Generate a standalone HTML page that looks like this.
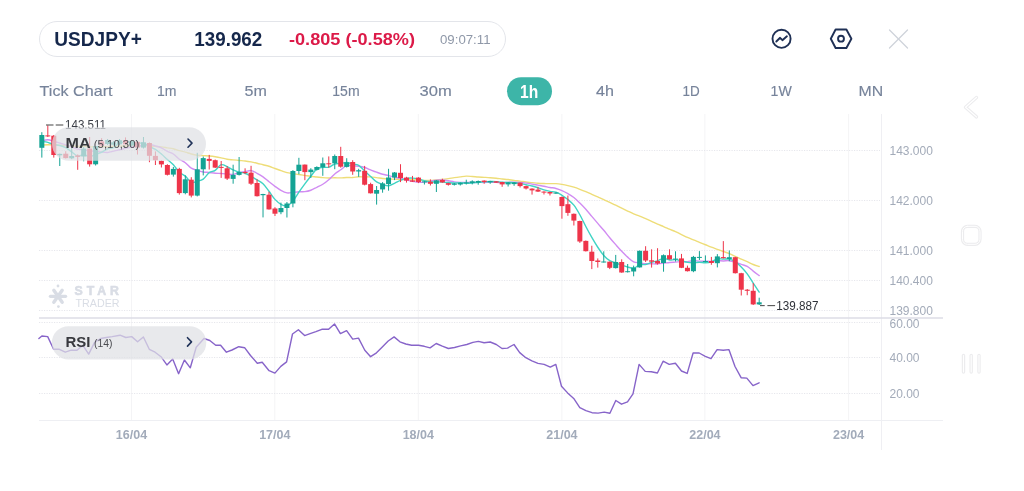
<!DOCTYPE html>
<html><head><meta charset="utf-8">
<style>
html,body{margin:0;padding:0;background:#fff;}
body{width:1024px;height:491px;overflow:hidden;position:relative;font-family:"Liberation Sans",sans-serif;}
svg{position:absolute;left:0;top:0;will-change:transform;}
text{font-family:"Liberation Sans",sans-serif;}
.ax{font-size:12px;fill:#a3abb9;}
.dt{font-size:12.5px;fill:#a2abba;font-weight:bold;}
.tab{font-size:15px;fill:#76839a;stroke:#76839a;stroke-width:0.15;}
</style></head>
<body>
<svg width="1024" height="491" viewBox="0 0 1024 491">
<!-- header pill -->
<rect x="39.5" y="21.5" width="466" height="35" rx="17.5" fill="#fff" stroke="#e3e5ea" stroke-width="1"/>
<text x="54.3" y="46" font-size="19.6" font-weight="bold" fill="#15274b" textLength="87.5" lengthAdjust="spacingAndGlyphs">USDJPY+</text>
<text x="194.3" y="46" font-size="19.6" font-weight="bold" fill="#15274b" textLength="68" lengthAdjust="spacingAndGlyphs">139.962</text>
<text x="289" y="45" font-size="17.4" font-weight="bold" fill="#dc1a48" textLength="126" lengthAdjust="spacingAndGlyphs">-0.805 (-0.58%)</text>
<text x="440" y="44" font-size="13" fill="#8f98a8" textLength="50.5" lengthAdjust="spacingAndGlyphs">09:07:11</text>
<!-- icons -->
<g fill="none" stroke="#1f3055" stroke-width="1.9" stroke-linecap="round" stroke-linejoin="round">
<circle cx="781.55" cy="38.8" r="9.05"/>
<polyline points="776.3,41.5 780.1,37.8 782.4,40.2 786.9,36.3"/>
<polygon points="830.8,38.75 835.6,29.5 846.4,29.5 851.4,38.75 846.4,48 835.6,48"/>
<circle cx="841" cy="38.7" r="2.95"/>
</g>
<g stroke="#cfd3da" stroke-width="1.3" stroke-linecap="round">
<line x1="889.5" y1="30" x2="907.5" y2="48"/><line x1="907.5" y1="30" x2="889.5" y2="48"/>
</g>
<!-- tabs -->
<text x="39.6" y="95.9" class="tab" textLength="72.9" lengthAdjust="spacingAndGlyphs">Tick Chart</text>
<text x="156.9" y="95.9" class="tab" textLength="19.5" lengthAdjust="spacingAndGlyphs">1m</text>
<text x="244.5" y="95.9" class="tab" textLength="22.3" lengthAdjust="spacingAndGlyphs">5m</text>
<text x="332.3" y="95.9" class="tab" textLength="27.3" lengthAdjust="spacingAndGlyphs">15m</text>
<text x="419.6" y="95.9" class="tab" textLength="32.2" lengthAdjust="spacingAndGlyphs">30m</text>
<rect x="507" y="77.2" width="45" height="28" rx="14" fill="#3db5a8"/>
<text x="520" y="97.9" font-size="17.5" font-weight="bold" fill="#fff" textLength="18.2" lengthAdjust="spacingAndGlyphs">1h</text>
<text x="596" y="95.9" class="tab" textLength="17.9" lengthAdjust="spacingAndGlyphs">4h</text>
<text x="682.6" y="95.9" class="tab" textLength="17.2" lengthAdjust="spacingAndGlyphs">1D</text>
<text x="770.6" y="95.9" class="tab" textLength="21.2" lengthAdjust="spacingAndGlyphs">1W</text>
<text x="858.5" y="95.9" class="tab" textLength="24.6" lengthAdjust="spacingAndGlyphs">MN</text>
<!-- right side faint icons -->
<g fill="none" stroke-linecap="round" stroke-linejoin="round">
<polyline points="976.5,97.5 965.5,107.2 976.5,116.9" stroke="#ececee" stroke-width="3.4"/>
<polyline points="976.5,97.5 965.5,107.2 976.5,116.9" stroke="#fff" stroke-width="1.2"/>
<rect x="962.5" y="226.3" width="17.5" height="18" rx="5" stroke="#ececee" stroke-width="3.2"/>
<rect x="962.5" y="226.3" width="17.5" height="18" rx="5" stroke="#fff" stroke-width="1"/>
<g stroke="#ececee" stroke-width="3.4"><line x1="963.5" y1="355.5" x2="963.5" y2="372"/><line x1="971.2" y1="355.5" x2="971.2" y2="372"/><line x1="979" y1="355.5" x2="979" y2="372"/></g>
<g stroke="#fff" stroke-width="1.1"><line x1="963.5" y1="355.5" x2="963.5" y2="372"/><line x1="971.2" y1="355.5" x2="971.2" y2="372"/><line x1="979" y1="355.5" x2="979" y2="372"/></g>
</g>
<!-- grid -->
<line x1="131.5" y1="114" x2="131.5" y2="420" stroke="#f4f4f6" stroke-width="1"/>
<line x1="274.8" y1="114" x2="274.8" y2="420" stroke="#f4f4f6" stroke-width="1"/>
<line x1="418.3" y1="114" x2="418.3" y2="420" stroke="#f4f4f6" stroke-width="1"/>
<line x1="561.9" y1="114" x2="561.9" y2="420" stroke="#f4f4f6" stroke-width="1"/>
<line x1="704.9" y1="114" x2="704.9" y2="420" stroke="#f4f4f6" stroke-width="1"/>
<line x1="848.6" y1="114" x2="848.6" y2="420" stroke="#f4f4f6" stroke-width="1"/>
<line x1="881.5" y1="114" x2="881.5" y2="450" stroke="#efeff3" stroke-width="1"/>
<line x1="39" y1="150.5" x2="880" y2="150.5" stroke="#e6e7ec" stroke-width="1" stroke-dasharray="1.2 1.3"/>
<line x1="39" y1="200.5" x2="880" y2="200.5" stroke="#e6e7ec" stroke-width="1" stroke-dasharray="1.2 1.3"/>
<line x1="39" y1="250.5" x2="880" y2="250.5" stroke="#e6e7ec" stroke-width="1" stroke-dasharray="1.2 1.3"/>
<line x1="39" y1="280.5" x2="880" y2="280.5" stroke="#e6e7ec" stroke-width="1" stroke-dasharray="1.2 1.3"/>
<line x1="39" y1="310.5" x2="880" y2="310.5" stroke="#e6e7ec" stroke-width="1" stroke-dasharray="1.2 1.3"/>
<line x1="39" y1="322.5" x2="880" y2="322.5" stroke="#e6e7ec" stroke-width="1" stroke-dasharray="1.2 1.3"/>
<line x1="39" y1="357.5" x2="880" y2="357.5" stroke="#e6e7ec" stroke-width="1" stroke-dasharray="1.2 1.3"/>
<line x1="39" y1="393.5" x2="880" y2="393.5" stroke="#e6e7ec" stroke-width="1" stroke-dasharray="1.2 1.3"/>
<line x1="39" y1="318" x2="943" y2="318" stroke="#dcdde6" stroke-width="1.6"/>
<line x1="39" y1="420.5" x2="943" y2="420.5" stroke="#eeeff3" stroke-width="1"/>
<!-- watermark -->
<g fill="#d9dde5">
<g transform="translate(58,296.3)">
<rect x="-9.2" y="-1.6" width="18.4" height="3.2" rx="1.6"/>
<rect x="-1.7" y="-9" width="3.4" height="18" rx="1.7" transform="rotate(35)"/>
<rect x="-1.7" y="-9" width="3.4" height="18" rx="1.7" transform="rotate(-35)"/>
<circle cx="0" cy="-10.3" r="1.4"/><circle cx="0.4" cy="10.3" r="1.4"/>
</g>
<text x="74.6" y="294.8" font-size="12.3" font-weight="bold" stroke="#d9dde5" stroke-width="0.6" textLength="44.3" lengthAdjust="spacing">STAR</text>
<text x="75.5" y="306.6" font-size="10.3" textLength="44" lengthAdjust="spacingAndGlyphs">TRADER</text>
</g>
<path d="M41.83,145.09 C42.83,145.03 45.82,144.75 47.81,144.73 C49.8,144.71 51.8,144.91 53.79,144.99 C55.78,145.07 57.77,145.12 59.76,145.22 C61.75,145.32 63.75,145.47 65.74,145.58 C67.73,145.69 69.73,145.77 71.72,145.87 C73.71,145.97 75.71,146.14 77.7,146.2 C79.69,146.26 81.69,146.14 83.68,146.24 C85.67,146.34 87.66,146.72 89.65,146.81 C91.64,146.9 93.64,146.79 95.63,146.77 C97.62,146.75 99.62,146.77 101.61,146.72 C103.6,146.67 105.6,146.55 107.59,146.48 C109.58,146.41 111.58,146.38 113.57,146.31 C115.56,146.24 117.55,146.14 119.54,146.08 C121.53,146.03 123.53,146.03 125.52,145.98 C127.51,145.93 129.51,145.82 131.5,145.79 C133.49,145.76 135.49,145.83 137.48,145.8 C139.47,145.78 141.47,145.62 143.46,145.64 C145.45,145.66 147.44,145.81 149.43,145.93 C151.42,146.05 153.42,146.19 155.41,146.36 C157.4,146.53 159.4,146.68 161.39,146.93 C163.38,147.18 165.38,147.54 167.37,147.85 C169.36,148.16 171.36,148.31 173.35,148.78 C175.34,149.25 177.33,150.14 179.32,150.69 C181.31,151.24 183.31,151.52 185.3,152.06 C187.29,152.6 189.29,153.43 191.28,153.95 C193.27,154.47 195.27,154.91 197.26,155.19 C199.25,155.47 201.25,155.52 203.24,155.66 C205.23,155.8 207.22,155.86 209.21,156.04 C211.2,156.22 213.2,156.43 215.19,156.72 C217.18,157.01 219.18,157.39 221.17,157.81 C223.16,158.23 225.16,158.88 227.15,159.22 C229.14,159.56 231.14,159.67 233.13,159.88 C235.12,160.09 237.11,160.3 239.1,160.48 C241.09,160.66 243.09,160.74 245.08,160.98 C247.07,161.22 249.07,161.53 251.06,161.9 C253.05,162.27 255.05,162.74 257.04,163.21 C259.03,163.68 261.03,164.23 263.02,164.73 C265.01,165.23 267,165.6 268.99,166.23 C270.98,166.86 272.98,167.77 274.97,168.49 C276.96,169.21 278.96,169.87 280.95,170.57 C282.94,171.27 284.94,172.18 286.93,172.69 C288.92,173.2 290.92,173.34 292.91,173.64 C294.9,173.94 296.89,174.17 298.88,174.46 C300.87,174.75 302.87,175.08 304.86,175.39 C306.85,175.7 308.85,176.07 310.84,176.33 C312.83,176.59 314.83,176.75 316.82,176.97 C318.81,177.19 320.81,177.51 322.8,177.67 C324.79,177.83 326.78,177.93 328.77,177.95 C330.76,177.97 332.76,177.82 334.75,177.81 C336.74,177.8 338.74,177.95 340.73,177.89 C342.72,177.83 344.72,177.53 346.71,177.47 C348.7,177.41 350.7,177.67 352.69,177.56 C354.68,177.45 356.67,176.89 358.66,176.79 C360.65,176.69 362.65,176.95 364.64,176.97 C366.63,176.99 368.63,176.8 370.62,176.9 C372.61,177 374.61,177.34 376.6,177.59 C378.59,177.84 380.59,178.2 382.58,178.43 C384.57,178.66 386.56,178.86 388.55,178.98 C390.54,179.1 392.54,179.06 394.53,179.15 C396.52,179.24 398.52,179.43 400.51,179.5 C402.5,179.57 404.5,179.51 406.49,179.56 C408.48,179.61 410.48,179.69 412.47,179.79 C414.46,179.88 416.45,180.03 418.44,180.13 C420.43,180.23 422.43,180.36 424.42,180.41 C426.41,180.46 428.41,180.5 430.4,180.41 C432.39,180.32 434.39,180.03 436.38,179.88 C438.37,179.73 440.37,179.7 442.36,179.5 C444.35,179.3 446.34,178.99 448.33,178.68 C450.32,178.38 452.32,177.98 454.31,177.67 C456.3,177.36 458.3,177.09 460.29,176.83 C462.28,176.57 464.28,176.19 466.27,176.13 C468.26,176.07 470.26,176.32 472.25,176.47 C474.24,176.62 476.23,176.86 478.22,177.01 C480.21,177.16 482.21,177.22 484.2,177.34 C486.19,177.46 488.19,177.57 490.18,177.72 C492.17,177.87 494.17,178.05 496.16,178.25 C498.15,178.45 500.15,178.73 502.14,178.95 C504.13,179.17 506.12,179.31 508.11,179.56 C510.1,179.81 512.1,180.19 514.09,180.44 C516.08,180.69 518.08,180.84 520.07,181.09 C522.06,181.34 524.06,181.71 526.05,181.96 C528.04,182.21 530.04,182.37 532.03,182.59 C534.02,182.81 536.01,183.15 538,183.31 C539.99,183.47 541.99,183.52 543.98,183.57 C545.97,183.62 547.97,183.56 549.96,183.58 C551.95,183.6 553.95,183.52 555.94,183.66 C557.93,183.8 559.93,184.1 561.92,184.42 C563.91,184.74 565.9,185.14 567.89,185.6 C569.88,186.06 571.88,186.58 573.87,187.2 C575.86,187.82 577.86,188.57 579.85,189.32 C581.84,190.06 583.84,190.84 585.83,191.67 C587.82,192.5 589.82,193.43 591.81,194.31 C593.8,195.19 595.79,196.09 597.78,196.98 C599.77,197.87 601.77,198.74 603.76,199.65 C605.75,200.56 607.75,201.53 609.74,202.45 C611.73,203.37 613.73,204.22 615.72,205.17 C617.71,206.12 619.71,207.19 621.7,208.17 C623.69,209.15 625.68,210.1 627.67,211.05 C629.66,212 631.66,213 633.65,213.85 C635.64,214.69 637.64,215.31 639.63,216.12 C641.62,216.93 643.62,217.84 645.61,218.72 C647.6,219.6 649.6,220.5 651.59,221.4 C653.58,222.31 655.57,223.28 657.56,224.15 C659.55,225.02 661.55,225.75 663.54,226.59 C665.53,227.43 667.53,228.34 669.52,229.2 C671.51,230.06 673.51,230.84 675.5,231.73 C677.49,232.61 679.49,233.55 681.48,234.51 C683.47,235.47 685.46,236.56 687.45,237.47 C689.44,238.38 691.44,239.15 693.43,239.96 C695.42,240.77 697.42,241.53 699.41,242.32 C701.4,243.11 703.4,243.92 705.39,244.73 C707.38,245.53 709.38,246.39 711.37,247.15 C713.36,247.91 715.35,248.59 717.34,249.31 C719.33,250.03 721.33,250.78 723.32,251.5 C725.31,252.22 727.31,252.82 729.3,253.62 C731.29,254.42 733.29,255.4 735.28,256.31 C737.27,257.22 739.27,258.2 741.26,259.1 C743.25,260 745.24,260.79 747.23,261.69 C749.22,262.59 751.22,263.69 753.21,264.49 C755.2,265.29 758.19,266.17 759.19,266.51" fill="none" stroke="#eedd78" stroke-width="1.4" stroke-linecap="round"/>
<path d="M41.83,140.88 C42.83,140.7 45.82,139.75 47.81,139.8 C49.8,139.85 51.8,140.67 53.79,141.2 C55.78,141.73 57.77,142.37 59.76,143 C61.75,143.63 63.75,144.38 65.74,145 C67.73,145.62 69.73,146 71.72,146.7 C73.71,147.4 75.71,148.7 77.7,149.19 C79.69,149.68 81.69,149.33 83.68,149.65 C85.67,149.97 87.66,150.91 89.65,151.14 C91.64,151.37 93.64,150.87 95.63,151.02 C97.62,151.18 99.62,151.83 101.61,152.07 C103.6,152.31 105.6,152.58 107.59,152.43 C109.58,152.28 111.58,151.6 113.57,151.16 C115.56,150.72 117.55,150.25 119.54,149.79 C121.53,149.33 123.53,148.88 125.52,148.41 C127.51,147.94 129.51,147.35 131.5,146.95 C133.49,146.55 135.49,146.28 137.48,146.02 C139.47,145.76 141.47,145.64 143.46,145.39 C145.45,145.14 147.44,144.45 149.43,144.54 C151.42,144.63 153.42,145.4 155.41,145.95 C157.4,146.5 159.4,146.94 161.39,147.84 C163.38,148.74 165.38,150.3 167.37,151.32 C169.36,152.34 171.36,152.65 173.35,153.98 C175.34,155.31 177.33,157.81 179.32,159.27 C181.31,160.74 183.31,161.28 185.3,162.77 C187.29,164.26 189.29,166.93 191.28,168.19 C193.27,169.45 195.27,169.74 197.26,170.36 C199.25,170.99 201.25,171.59 203.24,171.94 C205.23,172.29 207.22,172.24 209.21,172.45 C211.2,172.66 213.2,173.02 215.19,173.2 C217.18,173.38 219.18,173.4 221.17,173.52 C223.16,173.64 225.16,173.74 227.15,173.9 C229.14,174.06 231.14,174.75 233.13,174.5 C235.12,174.25 237.11,172.85 239.1,172.39 C241.09,171.93 243.09,172.06 245.08,171.76 C247.07,171.46 249.07,170.32 251.06,170.57 C253.05,170.82 255.05,172.21 257.04,173.26 C259.03,174.31 261.03,175.44 263.02,176.85 C265.01,178.26 267,180.12 268.99,181.7 C270.98,183.28 272.98,184.87 274.97,186.31 C276.96,187.75 278.96,189.26 280.95,190.35 C282.94,191.44 284.94,192.49 286.93,192.84 C288.92,193.19 290.92,192.64 292.91,192.45 C294.9,192.26 296.89,191.86 298.88,191.72 C300.87,191.58 302.87,191.88 304.86,191.63 C306.85,191.38 308.85,190.94 310.84,190.22 C312.83,189.5 314.83,188.3 316.82,187.3 C318.81,186.3 320.81,185.5 322.8,184.23 C324.79,182.96 326.78,181.41 328.77,179.69 C330.76,177.97 332.76,175.57 334.75,173.92 C336.74,172.27 338.74,171.16 340.73,169.79 C342.72,168.41 344.72,166.35 346.71,165.67 C348.7,164.99 350.7,165.62 352.69,165.72 C354.68,165.82 356.67,165.97 358.66,166.27 C360.65,166.57 362.65,166.93 364.64,167.53 C366.63,168.13 368.63,169.12 370.62,169.9 C372.61,170.68 374.61,171.48 376.6,172.2 C378.59,172.92 380.59,173.65 382.58,174.21 C384.57,174.77 386.56,175.06 388.55,175.56 C390.54,176.06 392.54,176.75 394.53,177.21 C396.52,177.68 398.52,177.85 400.51,178.35 C402.5,178.84 404.5,179.71 406.49,180.18 C408.48,180.66 410.48,180.83 412.47,181.2 C414.46,181.57 416.45,182.25 418.44,182.39 C420.43,182.53 422.43,182.27 424.42,182.06 C426.41,181.85 428.41,181.43 430.4,181.11 C432.39,180.79 434.39,180.33 436.38,180.15 C438.37,179.97 440.37,179.95 442.36,180.05 C444.35,180.16 446.34,180.47 448.33,180.78 C450.32,181.09 452.32,181.62 454.31,181.88 C456.3,182.14 458.3,182.24 460.29,182.35 C462.28,182.46 464.28,182.51 466.27,182.53 C468.26,182.55 470.26,182.52 472.25,182.49 C474.24,182.47 476.23,182.39 478.22,182.38 C480.21,182.37 482.21,182.48 484.2,182.44 C486.19,182.4 488.19,182.17 490.18,182.16 C492.17,182.15 494.17,182.32 496.16,182.39 C498.15,182.46 500.15,182.6 502.14,182.59 C504.13,182.58 506.12,182.41 508.11,182.35 C510.1,182.29 512.1,182.2 514.09,182.24 C516.08,182.28 518.08,182.41 520.07,182.57 C522.06,182.73 524.06,182.93 526.05,183.18 C528.04,183.43 530.04,183.76 532.03,184.09 C534.02,184.42 536.01,184.8 538,185.15 C539.99,185.5 541.99,185.83 543.98,186.21 C545.97,186.59 547.97,187.09 549.96,187.46 C551.95,187.83 553.95,187.92 555.94,188.45 C557.93,188.98 559.93,189.75 561.92,190.62 C563.91,191.49 565.9,192.52 567.89,193.67 C569.88,194.81 571.88,195.93 573.87,197.49 C575.86,199.05 577.86,201.06 579.85,203.03 C581.84,205 583.84,207.08 585.83,209.3 C587.82,211.52 589.82,214.01 591.81,216.36 C593.8,218.71 595.79,221.08 597.78,223.4 C599.77,225.72 601.77,227.9 603.76,230.29 C605.75,232.68 607.75,235.32 609.74,237.72 C611.73,240.12 613.73,242.4 615.72,244.66 C617.71,246.92 619.71,249.22 621.7,251.3 C623.69,253.38 625.68,255.38 627.67,257.13 C629.66,258.88 631.66,260.89 633.65,261.83 C635.64,262.77 637.64,262.45 639.63,262.76 C641.62,263.07 643.62,263.52 645.61,263.69 C647.6,263.86 649.6,263.72 651.59,263.76 C653.58,263.8 655.57,263.99 657.56,263.91 C659.55,263.83 661.55,263.53 663.54,263.28 C665.53,263.03 667.53,262.63 669.52,262.43 C671.51,262.23 673.51,262.22 675.5,262.09 C677.49,261.95 679.49,261.7 681.48,261.62 C683.47,261.54 685.46,261.8 687.45,261.62 C689.44,261.44 691.44,260.63 693.43,260.55 C695.42,260.47 697.42,261.05 699.41,261.16 C701.4,261.27 703.4,261.18 705.39,261.21 C707.38,261.24 709.38,261.44 711.37,261.34 C713.36,261.24 715.35,260.7 717.34,260.63 C719.33,260.56 721.33,260.92 723.32,260.93 C725.31,260.94 727.31,260.51 729.3,260.72 C731.29,260.93 733.29,261.57 735.28,262.18 C737.27,262.79 739.27,263.68 741.26,264.37 C743.25,265.06 745.24,265.21 747.23,266.33 C749.22,267.45 751.22,269.53 753.21,271.08 C755.2,272.63 758.19,274.86 759.19,275.62" fill="none" stroke="#d18cf2" stroke-width="1.4" stroke-linecap="round"/>
<path d="M41.83,141.52 C42.83,141.67 45.82,141.89 47.81,142.4 C49.8,142.91 51.8,144.08 53.79,144.6 C55.78,145.12 57.77,144.99 59.76,145.5 C61.75,146.01 63.75,146.62 65.74,147.68 C67.73,148.74 69.73,150.5 71.72,151.88 C73.71,153.26 75.71,155.51 77.7,155.98 C79.69,156.45 81.69,154.57 83.68,154.7 C85.67,154.83 87.66,156.84 89.65,156.78 C91.64,156.72 93.64,155.11 95.63,154.36 C97.62,153.61 99.62,153.17 101.61,152.26 C103.6,151.35 105.6,149.65 107.59,148.88 C109.58,148.11 111.58,148.63 113.57,147.62 C115.56,146.61 117.55,143.66 119.54,142.8 C121.53,141.94 123.53,142.65 125.52,142.46 C127.51,142.27 129.51,141.52 131.5,141.64 C133.49,141.76 135.49,142.91 137.48,143.16 C139.47,143.41 141.47,142.64 143.46,143.16 C145.45,143.68 147.44,145.23 149.43,146.28 C151.42,147.33 153.42,148.15 155.41,149.44 C157.4,150.73 159.4,152.37 161.39,154.04 C163.38,155.71 165.38,157.69 167.37,159.48 C169.36,161.27 171.36,162.67 173.35,164.8 C175.34,166.93 177.33,170.38 179.32,172.26 C181.31,174.14 183.31,174.42 185.3,176.1 C187.29,177.78 189.29,181.48 191.28,182.34 C193.27,183.2 195.27,181.78 197.26,181.24 C199.25,180.7 201.25,180.51 203.24,179.08 C205.23,177.65 207.22,174.1 209.21,172.64 C211.2,171.18 213.2,171.62 215.19,170.3 C217.18,168.98 219.18,165.32 221.17,164.7 C223.16,164.08 225.16,165.69 227.15,166.56 C229.14,167.43 231.14,168.99 233.13,169.92 C235.12,170.85 237.11,171.59 239.1,172.14 C241.09,172.69 243.09,172.5 245.08,173.22 C247.07,173.94 249.07,175.32 251.06,176.44 C253.05,177.56 255.05,178.74 257.04,179.96 C259.03,181.18 261.03,181.9 263.02,183.78 C265.01,185.66 267,188.66 268.99,191.26 C270.98,193.86 272.98,197.23 274.97,199.4 C276.96,201.57 278.96,203.21 280.95,204.26 C282.94,205.31 284.94,206.24 286.93,205.72 C288.92,205.2 290.92,203.38 292.91,201.12 C294.9,198.86 296.89,195.06 298.88,192.18 C300.87,189.3 302.87,186.53 304.86,183.86 C306.85,181.19 308.85,178.68 310.84,176.18 C312.83,173.68 314.83,170.35 316.82,168.88 C318.81,167.41 320.81,167.62 322.8,167.34 C324.79,167.06 326.78,167.76 328.77,167.2 C330.76,166.64 332.76,164.61 334.75,163.98 C336.74,163.35 338.74,163.65 340.73,163.4 C342.72,163.15 344.72,162.34 346.71,162.46 C348.7,162.58 350.7,163.62 352.69,164.1 C354.68,164.58 356.67,164.18 358.66,165.34 C360.65,166.5 362.65,169.24 364.64,171.08 C366.63,172.92 368.63,174.59 370.62,176.4 C372.61,178.21 374.61,180.62 376.6,181.94 C378.59,183.26 380.59,183.68 382.58,184.32 C384.57,184.96 386.56,185.94 388.55,185.78 C390.54,185.62 392.54,184.25 394.53,183.34 C396.52,182.43 398.52,181.12 400.51,180.3 C402.5,179.48 404.5,178.79 406.49,178.42 C408.48,178.05 410.48,177.98 412.47,178.08 C414.46,178.18 416.45,178.55 418.44,179 C420.43,179.45 422.43,180.29 424.42,180.78 C426.41,181.27 428.41,181.74 430.4,181.92 C432.39,182.1 434.39,181.86 436.38,181.88 C438.37,181.9 440.37,181.91 442.36,182.02 C444.35,182.13 446.34,182.4 448.33,182.56 C450.32,182.72 452.32,182.94 454.31,182.98 C456.3,183.02 458.3,182.75 460.29,182.78 C462.28,182.81 464.28,183.15 466.27,183.18 C468.26,183.21 470.26,183.12 472.25,182.96 C474.24,182.8 476.23,182.38 478.22,182.2 C480.21,182.02 482.21,182.01 484.2,181.9 C486.19,181.79 488.19,181.59 490.18,181.54 C492.17,181.49 494.17,181.49 496.16,181.6 C498.15,181.71 500.15,182.07 502.14,182.22 C504.13,182.37 506.12,182.44 508.11,182.5 C510.1,182.56 512.1,182.4 514.09,182.58 C516.08,182.76 518.08,183.24 520.07,183.6 C522.06,183.96 524.06,184.37 526.05,184.76 C528.04,185.15 530.04,185.45 532.03,185.96 C534.02,186.47 536.01,187.15 538,187.8 C539.99,188.45 541.99,189.25 543.98,189.84 C545.97,190.43 547.97,190.94 549.96,191.32 C551.95,191.7 553.95,191.48 555.94,192.14 C557.93,192.8 559.93,194.05 561.92,195.28 C563.91,196.51 565.9,197.9 567.89,199.54 C569.88,201.18 571.88,202.61 573.87,205.14 C575.86,207.67 577.86,211.19 579.85,214.74 C581.84,218.29 583.84,222.68 585.83,226.46 C587.82,230.24 589.82,233.97 591.81,237.44 C593.8,240.91 595.79,244.26 597.78,247.26 C599.77,250.26 601.77,253.2 603.76,255.44 C605.75,257.68 607.75,259.46 609.74,260.7 C611.73,261.94 613.73,262.12 615.72,262.86 C617.71,263.6 619.71,264.47 621.7,265.16 C623.69,265.85 625.68,266.49 627.67,267 C629.66,267.51 631.66,268.58 633.65,268.22 C635.64,267.86 637.64,265.44 639.63,264.82 C641.62,264.2 643.62,264.93 645.61,264.52 C647.6,264.11 649.6,262.98 651.59,262.36 C653.58,261.74 655.57,261.49 657.56,260.82 C659.55,260.15 661.55,258.47 663.54,258.34 C665.53,258.21 667.53,259.82 669.52,260.04 C671.51,260.26 673.51,259.52 675.5,259.66 C677.49,259.8 679.49,260.42 681.48,260.88 C683.47,261.34 685.46,262.11 687.45,262.42 C689.44,262.73 691.44,262.78 693.43,262.76 C695.42,262.74 697.42,262.28 699.41,262.28 C701.4,262.28 703.4,262.84 705.39,262.76 C707.38,262.68 709.38,262.45 711.37,261.8 C713.36,261.15 715.35,259.29 717.34,258.84 C719.33,258.39 721.33,259.05 723.32,259.1 C725.31,259.15 727.31,258.74 729.3,259.16 C731.29,259.58 733.29,260.3 735.28,261.6 C737.27,262.9 739.27,264.9 741.26,266.94 C743.25,268.98 745.24,271.13 747.23,273.82 C749.22,276.51 751.22,280.02 753.21,283.06 C755.2,286.1 758.19,290.58 759.19,292.08" fill="none" stroke="#40d4c4" stroke-width="1.4" stroke-linecap="round"/>
<rect x="41.33" y="132.2" width="1" height="25.4" fill="#14a394"/>
<rect x="39.33" y="135" width="5" height="12.8" fill="#14a394"/>
<rect x="47.31" y="125.3" width="1" height="11.7" fill="#ee354a"/>
<rect x="45.31" y="135.4" width="5" height="1" fill="#ee354a"/>
<rect x="53.29" y="135" width="1" height="22.6" fill="#ee354a"/>
<rect x="51.29" y="135.7" width="5" height="19.3" fill="#ee354a"/>
<rect x="59.26" y="153.5" width="1" height="12.5" fill="#14a394"/>
<rect x="57.26" y="153.9" width="5" height="1.4" fill="#14a394"/>
<rect x="65.24" y="151.2" width="1" height="7.3" fill="#ee354a"/>
<rect x="63.24" y="153.7" width="5" height="4.4" fill="#ee354a"/>
<rect x="71.22" y="148" width="1" height="11.2" fill="#14a394"/>
<rect x="69.22" y="156" width="5" height="2.3" fill="#14a394"/>
<rect x="77.2" y="154.4" width="1" height="15.4" fill="#ee354a"/>
<rect x="75.2" y="155.5" width="5" height="1.4" fill="#ee354a"/>
<rect x="83.18" y="147" width="1" height="14.3" fill="#14a394"/>
<rect x="81.18" y="148.6" width="5" height="7.9" fill="#14a394"/>
<rect x="89.15" y="137" width="1" height="29.6" fill="#ee354a"/>
<rect x="87.15" y="148.6" width="5" height="15.7" fill="#ee354a"/>
<rect x="95.13" y="146" width="1" height="19.5" fill="#14a394"/>
<rect x="93.13" y="146" width="5" height="18.3" fill="#14a394"/>
<rect x="101.11" y="138.2" width="1" height="8.3" fill="#ee354a"/>
<rect x="99.11" y="141.4" width="5" height="4.1" fill="#ee354a"/>
<rect x="107.09" y="139" width="1" height="6" fill="#14a394"/>
<rect x="105.09" y="140" width="5" height="4" fill="#14a394"/>
<rect x="113.07" y="141" width="1" height="4.5" fill="#14a394"/>
<rect x="111.07" y="142.3" width="5" height="2.4" fill="#14a394"/>
<rect x="119.04" y="139" width="1" height="6" fill="#14a394"/>
<rect x="117.04" y="140.2" width="5" height="4.1" fill="#14a394"/>
<rect x="125.02" y="137.4" width="1" height="7.6" fill="#ee354a"/>
<rect x="123.02" y="140.2" width="5" height="4.1" fill="#ee354a"/>
<rect x="131" y="140" width="1" height="6.5" fill="#14a394"/>
<rect x="129" y="141.4" width="5" height="4.1" fill="#14a394"/>
<rect x="136.98" y="141" width="1" height="13.5" fill="#ee354a"/>
<rect x="134.98" y="141.9" width="5" height="5.7" fill="#ee354a"/>
<rect x="142.96" y="137" width="1" height="11.5" fill="#14a394"/>
<rect x="140.96" y="142.3" width="5" height="5.3" fill="#14a394"/>
<rect x="148.93" y="142.5" width="1" height="19.7" fill="#ee354a"/>
<rect x="146.93" y="143" width="5" height="12.8" fill="#ee354a"/>
<rect x="154.91" y="151.4" width="1" height="13.6" fill="#ee354a"/>
<rect x="152.91" y="155.9" width="5" height="4.2" fill="#ee354a"/>
<rect x="160.89" y="160.5" width="1" height="7" fill="#ee354a"/>
<rect x="158.89" y="160.8" width="5" height="3.6" fill="#ee354a"/>
<rect x="166.87" y="164.2" width="1" height="11.3" fill="#ee354a"/>
<rect x="164.87" y="165" width="5" height="9.8" fill="#ee354a"/>
<rect x="172.85" y="166.9" width="1" height="9.7" fill="#14a394"/>
<rect x="170.85" y="168.9" width="5" height="5.7" fill="#14a394"/>
<rect x="178.82" y="167.8" width="1" height="26.8" fill="#ee354a"/>
<rect x="176.82" y="168.9" width="5" height="24.2" fill="#ee354a"/>
<rect x="184.8" y="175.4" width="1" height="18.9" fill="#14a394"/>
<rect x="182.8" y="179.3" width="5" height="13.8" fill="#14a394"/>
<rect x="190.78" y="177.2" width="1" height="20.2" fill="#ee354a"/>
<rect x="188.78" y="179.7" width="5" height="15.9" fill="#ee354a"/>
<rect x="196.76" y="152.8" width="1" height="43.6" fill="#14a394"/>
<rect x="194.76" y="169.3" width="5" height="26.3" fill="#14a394"/>
<rect x="202.74" y="156.5" width="1" height="18.9" fill="#14a394"/>
<rect x="200.74" y="158.1" width="5" height="11.2" fill="#14a394"/>
<rect x="208.71" y="154.9" width="1" height="14.6" fill="#ee354a"/>
<rect x="206.71" y="158.9" width="5" height="2" fill="#ee354a"/>
<rect x="214.69" y="159.5" width="1" height="8.5" fill="#ee354a"/>
<rect x="212.69" y="160.2" width="5" height="7.4" fill="#ee354a"/>
<rect x="220.67" y="161" width="1" height="16.9" fill="#ee354a"/>
<rect x="218.67" y="166.9" width="5" height="1" fill="#ee354a"/>
<rect x="226.65" y="166.1" width="1" height="13.9" fill="#ee354a"/>
<rect x="224.65" y="168.3" width="5" height="10.3" fill="#ee354a"/>
<rect x="232.63" y="164.7" width="1" height="19" fill="#14a394"/>
<rect x="230.63" y="174.9" width="5" height="4" fill="#14a394"/>
<rect x="238.6" y="157" width="1" height="18.5" fill="#14a394"/>
<rect x="236.6" y="172" width="5" height="2.9" fill="#14a394"/>
<rect x="244.58" y="168.3" width="1" height="5.9" fill="#ee354a"/>
<rect x="242.58" y="172" width="5" height="1" fill="#ee354a"/>
<rect x="250.56" y="165.8" width="1" height="19.1" fill="#ee354a"/>
<rect x="248.56" y="172.7" width="5" height="11" fill="#ee354a"/>
<rect x="256.54" y="179.3" width="1" height="17.2" fill="#ee354a"/>
<rect x="254.54" y="183" width="5" height="13.2" fill="#ee354a"/>
<rect x="262.52" y="193.8" width="1" height="23.6" fill="#14a394"/>
<rect x="260.52" y="194" width="5" height="1.2" fill="#14a394"/>
<rect x="268.49" y="191.8" width="1" height="17.8" fill="#ee354a"/>
<rect x="266.49" y="194.7" width="5" height="14.7" fill="#ee354a"/>
<rect x="274.47" y="207.2" width="1" height="8.8" fill="#ee354a"/>
<rect x="272.47" y="208.5" width="5" height="5.2" fill="#ee354a"/>
<rect x="280.45" y="202.6" width="1" height="11.6" fill="#14a394"/>
<rect x="278.45" y="208" width="5" height="4.2" fill="#14a394"/>
<rect x="286.43" y="202" width="1" height="15.5" fill="#14a394"/>
<rect x="284.43" y="203.5" width="5" height="4.5" fill="#14a394"/>
<rect x="292.41" y="170.1" width="1" height="37.2" fill="#14a394"/>
<rect x="290.41" y="171" width="5" height="32.5" fill="#14a394"/>
<rect x="298.38" y="157.8" width="1" height="16.5" fill="#14a394"/>
<rect x="296.38" y="164.7" width="5" height="6.3" fill="#14a394"/>
<rect x="304.36" y="164.5" width="1" height="15.7" fill="#ee354a"/>
<rect x="302.36" y="164.6" width="5" height="7.5" fill="#ee354a"/>
<rect x="310.34" y="168.2" width="1" height="9.8" fill="#14a394"/>
<rect x="308.34" y="169.6" width="5" height="2.5" fill="#14a394"/>
<rect x="316.32" y="166.3" width="1" height="4.2" fill="#14a394"/>
<rect x="314.32" y="167" width="5" height="2.9" fill="#14a394"/>
<rect x="322.3" y="157.5" width="1" height="18.3" fill="#14a394"/>
<rect x="320.3" y="163.3" width="5" height="4" fill="#14a394"/>
<rect x="328.27" y="156.4" width="1" height="11.3" fill="#ee354a"/>
<rect x="326.27" y="163.3" width="5" height="1" fill="#ee354a"/>
<rect x="334.25" y="154.5" width="1" height="14.7" fill="#14a394"/>
<rect x="332.25" y="156" width="5" height="7.3" fill="#14a394"/>
<rect x="340.23" y="146.8" width="1" height="20.9" fill="#ee354a"/>
<rect x="338.23" y="156" width="5" height="10.7" fill="#ee354a"/>
<rect x="346.21" y="158.2" width="1" height="9.3" fill="#14a394"/>
<rect x="344.21" y="162.3" width="5" height="4.6" fill="#14a394"/>
<rect x="352.19" y="160.2" width="1" height="14.6" fill="#ee354a"/>
<rect x="350.19" y="162" width="5" height="9.5" fill="#ee354a"/>
<rect x="358.16" y="168.8" width="1" height="8" fill="#14a394"/>
<rect x="356.16" y="170.2" width="5" height="1.3" fill="#14a394"/>
<rect x="364.14" y="165.9" width="1" height="19.5" fill="#ee354a"/>
<rect x="362.14" y="170.8" width="5" height="13.9" fill="#ee354a"/>
<rect x="370.12" y="182.7" width="1" height="10.8" fill="#ee354a"/>
<rect x="368.12" y="184.1" width="5" height="9.2" fill="#ee354a"/>
<rect x="376.1" y="186" width="1" height="18.6" fill="#14a394"/>
<rect x="374.1" y="190" width="5" height="3.7" fill="#14a394"/>
<rect x="382.08" y="182.1" width="1" height="10.6" fill="#14a394"/>
<rect x="380.08" y="183.4" width="5" height="6" fill="#14a394"/>
<rect x="388.05" y="168.8" width="1" height="21.9" fill="#14a394"/>
<rect x="386.05" y="177.5" width="5" height="6.6" fill="#14a394"/>
<rect x="394.03" y="172" width="1" height="8.1" fill="#14a394"/>
<rect x="392.03" y="172.5" width="5" height="5" fill="#14a394"/>
<rect x="400.01" y="164.2" width="1" height="17.9" fill="#ee354a"/>
<rect x="398.01" y="172.8" width="5" height="5.3" fill="#ee354a"/>
<rect x="405.99" y="176.8" width="1" height="5.8" fill="#ee354a"/>
<rect x="403.99" y="177.6" width="5" height="3" fill="#ee354a"/>
<rect x="411.97" y="175.9" width="1" height="6.1" fill="#ee354a"/>
<rect x="409.97" y="180.4" width="5" height="1.3" fill="#ee354a"/>
<rect x="417.94" y="177.2" width="1" height="5.9" fill="#ee354a"/>
<rect x="415.94" y="177.6" width="5" height="4.5" fill="#ee354a"/>
<rect x="423.92" y="181" width="1" height="3.5" fill="#14a394"/>
<rect x="421.92" y="181.4" width="5" height="1" fill="#14a394"/>
<rect x="429.9" y="179.4" width="1" height="6.1" fill="#ee354a"/>
<rect x="427.9" y="181.7" width="5" height="2.1" fill="#ee354a"/>
<rect x="435.88" y="180" width="1" height="12" fill="#14a394"/>
<rect x="433.88" y="180.4" width="5" height="3.4" fill="#14a394"/>
<rect x="441.86" y="178.7" width="1" height="4.1" fill="#ee354a"/>
<rect x="439.86" y="180" width="5" height="2.4" fill="#ee354a"/>
<rect x="447.83" y="182.8" width="1" height="2.8" fill="#ee354a"/>
<rect x="445.83" y="183.1" width="5" height="1.7" fill="#ee354a"/>
<rect x="453.81" y="183" width="1" height="2.5" fill="#14a394"/>
<rect x="451.81" y="183.5" width="5" height="1.3" fill="#14a394"/>
<rect x="459.79" y="182.5" width="1" height="3" fill="#14a394"/>
<rect x="457.79" y="182.8" width="5" height="1.7" fill="#14a394"/>
<rect x="465.77" y="179.7" width="1" height="4.8" fill="#14a394"/>
<rect x="463.77" y="182.4" width="5" height="1" fill="#14a394"/>
<rect x="471.75" y="180.3" width="1" height="4.1" fill="#14a394"/>
<rect x="469.75" y="181.3" width="5" height="1.7" fill="#14a394"/>
<rect x="477.72" y="180.5" width="1" height="4.2" fill="#14a394"/>
<rect x="475.72" y="181" width="5" height="1.7" fill="#14a394"/>
<rect x="483.7" y="180.3" width="1" height="3.4" fill="#ee354a"/>
<rect x="481.7" y="180.6" width="5" height="1.4" fill="#ee354a"/>
<rect x="489.68" y="180.8" width="1" height="3" fill="#14a394"/>
<rect x="487.68" y="181" width="5" height="1.4" fill="#14a394"/>
<rect x="495.66" y="181" width="1" height="2" fill="#ee354a"/>
<rect x="493.66" y="181.3" width="5" height="1.4" fill="#ee354a"/>
<rect x="501.64" y="181.8" width="1" height="5" fill="#ee354a"/>
<rect x="499.64" y="182" width="5" height="2.4" fill="#ee354a"/>
<rect x="507.61" y="182" width="1" height="4.5" fill="#14a394"/>
<rect x="505.61" y="182.4" width="5" height="2" fill="#14a394"/>
<rect x="513.59" y="182" width="1" height="3.8" fill="#14a394"/>
<rect x="511.59" y="182.4" width="5" height="1.7" fill="#14a394"/>
<rect x="519.57" y="182.5" width="1" height="5" fill="#ee354a"/>
<rect x="517.57" y="182.7" width="5" height="3.4" fill="#ee354a"/>
<rect x="525.55" y="185.8" width="1" height="3.7" fill="#ee354a"/>
<rect x="523.55" y="186.1" width="5" height="2.4" fill="#ee354a"/>
<rect x="531.53" y="188.3" width="1" height="6.3" fill="#ee354a"/>
<rect x="529.53" y="188.6" width="5" height="1.8" fill="#ee354a"/>
<rect x="537.5" y="186.8" width="1" height="5.2" fill="#ee354a"/>
<rect x="535.5" y="189.6" width="5" height="2" fill="#ee354a"/>
<rect x="543.48" y="191.2" width="1" height="3.3" fill="#ee354a"/>
<rect x="541.48" y="191.6" width="5" height="1" fill="#ee354a"/>
<rect x="549.46" y="191.8" width="1" height="3.7" fill="#ee354a"/>
<rect x="547.46" y="192" width="5" height="1.5" fill="#ee354a"/>
<rect x="555.44" y="192.2" width="1" height="1.8" fill="#14a394"/>
<rect x="553.44" y="192.6" width="5" height="1" fill="#14a394"/>
<rect x="561.42" y="196.5" width="1" height="22.2" fill="#ee354a"/>
<rect x="559.42" y="197" width="5" height="9.1" fill="#ee354a"/>
<rect x="567.39" y="195.5" width="1" height="20.3" fill="#ee354a"/>
<rect x="565.39" y="204.2" width="5" height="8.7" fill="#ee354a"/>
<rect x="573.37" y="213.5" width="1" height="12" fill="#ee354a"/>
<rect x="571.37" y="213.8" width="5" height="6.8" fill="#ee354a"/>
<rect x="579.35" y="220.7" width="1" height="22.2" fill="#ee354a"/>
<rect x="577.35" y="221" width="5" height="20.5" fill="#ee354a"/>
<rect x="585.33" y="240.5" width="1" height="11" fill="#ee354a"/>
<rect x="583.33" y="240.9" width="5" height="10.3" fill="#ee354a"/>
<rect x="591.31" y="245.7" width="1" height="23.4" fill="#ee354a"/>
<rect x="589.31" y="251.7" width="5" height="9.3" fill="#ee354a"/>
<rect x="597.28" y="258.4" width="1" height="9.2" fill="#ee354a"/>
<rect x="595.28" y="260.5" width="5" height="1.5" fill="#ee354a"/>
<rect x="603.26" y="251.3" width="1" height="11.2" fill="#14a394"/>
<rect x="601.26" y="261.5" width="5" height="1" fill="#14a394"/>
<rect x="609.24" y="261.5" width="1" height="7.6" fill="#ee354a"/>
<rect x="607.24" y="261.7" width="5" height="6.1" fill="#ee354a"/>
<rect x="615.22" y="254.9" width="1" height="13.6" fill="#14a394"/>
<rect x="613.22" y="262" width="5" height="6.1" fill="#14a394"/>
<rect x="621.2" y="259.3" width="1" height="13.5" fill="#ee354a"/>
<rect x="619.2" y="262" width="5" height="10.5" fill="#ee354a"/>
<rect x="627.17" y="264" width="1" height="8.5" fill="#14a394"/>
<rect x="625.17" y="271.2" width="5" height="1" fill="#14a394"/>
<rect x="633.15" y="265.6" width="1" height="10.7" fill="#14a394"/>
<rect x="631.15" y="267.6" width="5" height="3.9" fill="#14a394"/>
<rect x="639.13" y="250.5" width="1" height="17.1" fill="#14a394"/>
<rect x="637.13" y="250.8" width="5" height="16.6" fill="#14a394"/>
<rect x="645.11" y="246.2" width="1" height="15.8" fill="#ee354a"/>
<rect x="643.11" y="250.8" width="5" height="9.7" fill="#ee354a"/>
<rect x="651.09" y="249.3" width="1" height="18.3" fill="#ee354a"/>
<rect x="649.09" y="260.3" width="5" height="1.4" fill="#ee354a"/>
<rect x="657.06" y="248.2" width="1" height="16.4" fill="#ee354a"/>
<rect x="655.06" y="261" width="5" height="2.5" fill="#ee354a"/>
<rect x="663.04" y="254.4" width="1" height="17.3" fill="#14a394"/>
<rect x="661.04" y="255.2" width="5" height="7.8" fill="#14a394"/>
<rect x="669.02" y="249.3" width="1" height="10.3" fill="#ee354a"/>
<rect x="667.02" y="255.2" width="5" height="4.1" fill="#ee354a"/>
<rect x="675" y="251.3" width="1" height="10.2" fill="#14a394"/>
<rect x="673" y="258.6" width="5" height="1" fill="#14a394"/>
<rect x="680.98" y="253.9" width="1" height="14.2" fill="#ee354a"/>
<rect x="678.98" y="258.4" width="5" height="9.4" fill="#ee354a"/>
<rect x="686.95" y="265.6" width="1" height="5.9" fill="#ee354a"/>
<rect x="684.95" y="267.8" width="5" height="3.4" fill="#ee354a"/>
<rect x="692.93" y="255.9" width="1" height="16.3" fill="#14a394"/>
<rect x="690.93" y="256.9" width="5" height="14.3" fill="#14a394"/>
<rect x="698.91" y="251.1" width="1" height="8.9" fill="#14a394"/>
<rect x="696.91" y="256.9" width="5" height="1" fill="#14a394"/>
<rect x="704.89" y="255.4" width="1" height="6.9" fill="#14a394"/>
<rect x="702.89" y="261" width="5" height="1" fill="#14a394"/>
<rect x="710.87" y="256.9" width="1" height="7.9" fill="#ee354a"/>
<rect x="708.87" y="261" width="5" height="2" fill="#ee354a"/>
<rect x="716.84" y="254.1" width="1" height="13.3" fill="#14a394"/>
<rect x="714.84" y="256.4" width="5" height="6.8" fill="#14a394"/>
<rect x="722.82" y="241.1" width="1" height="17.4" fill="#ee354a"/>
<rect x="720.82" y="257.1" width="5" height="1.1" fill="#ee354a"/>
<rect x="728.8" y="250.5" width="1" height="10.7" fill="#14a394"/>
<rect x="726.8" y="257.2" width="5" height="1.8" fill="#14a394"/>
<rect x="734.78" y="256.8" width="1" height="16.7" fill="#ee354a"/>
<rect x="732.78" y="257.2" width="5" height="16" fill="#ee354a"/>
<rect x="740.76" y="272.8" width="1" height="22.7" fill="#ee354a"/>
<rect x="738.76" y="273.2" width="5" height="16.5" fill="#ee354a"/>
<rect x="746.73" y="289" width="1" height="6.2" fill="#ee354a"/>
<rect x="744.73" y="289.7" width="5" height="1.1" fill="#ee354a"/>
<rect x="752.71" y="283.1" width="1" height="21.9" fill="#ee354a"/>
<rect x="750.71" y="290.8" width="5" height="13.6" fill="#ee354a"/>
<rect x="758.69" y="297.7" width="1" height="7.3" fill="#14a394"/>
<rect x="756.69" y="302.3" width="5" height="2.1" fill="#14a394"/>
<polyline points="38.9,338.5 41.9,336 47.7,336.6 53.6,349.3 59.4,349.3 65.3,352.2 71.2,350.2 77,350.2 82.9,345.3 88.7,354.1 94.6,342.4 100.5,338.5 106.3,337.5 112.2,336.6 120,335.2 125.8,337.5 131.7,336.6 137.6,341.8 143.4,337 149.3,349.3 155.1,352.2 161,356.7 166.9,364.9 172.7,359 178.6,373.7 184.4,360 190.3,367.8 196.2,347.3 204,338.5 209.8,340.5 215.7,345.3 220.6,345.3 226.4,352.2 232,350 238.8,346.7 244.6,347.7 250.5,355.5 257.3,363.3 262.2,362.3 269.1,370.7 274.9,373.1 280.8,366.4 286.6,361.9 292.5,334 298.4,329.7 304.6,335.6 310.1,333.6 315.9,331.7 321.8,329.3 328.6,329.3 334.5,323.9 340.4,333.6 346.6,330.7 352.7,339.1 358.5,338.1 364.8,350.2 370.6,356.7 376.5,352.8 382.3,346.9 388.2,341 394.1,336.9 399.9,341.8 405.8,344 411.6,345.3 418.5,345.3 424.3,346.3 430.1,347.9 436.2,343.5 442.3,346.1 448.4,348.5 454.5,347.5 460.6,345.9 466.8,344.5 472.9,342.4 478.4,341.4 484.1,342.8 490.2,342 496.3,344.5 502,348.5 507.5,348.1 514,344.5 519.7,352.6 525.8,357.7 531.9,360.8 538,363.4 544.1,364.4 550.3,367.1 555.8,364.4 561.5,386.2 567.6,392.9 573.7,398.4 579.8,407.6 585.9,410.7 592,412.7 598.1,413.1 604.2,412.1 609.9,413.3 615.8,400.5 621.5,404.2 627.5,401.9 633,393.8 639.1,364.4 645.2,371.4 651.3,371.8 657.4,373 663.1,361.2 669.2,364.4 675.4,363.2 681.5,371 687.2,373.4 693.1,353 699.2,353 705.3,356.3 711,358.7 717.1,349.6 723.2,350.2 728.9,349.6 735,366.5 741.1,377.7 746.8,378.1 753,385.6 759.1,382.8" fill="none" stroke="#8764c9" stroke-width="1.4" stroke-linejoin="round" stroke-linecap="round" />
<!-- hi/lo markers -->
<g stroke="#555" stroke-width="1.1">
<line x1="46" y1="125" x2="53.5" y2="125"/><line x1="55.7" y1="125" x2="63.3" y2="125"/>
<line x1="760" y1="305.6" x2="764.7" y2="305.6"/><line x1="767.4" y1="305.6" x2="775.1" y2="305.6"/>
</g>
<text x="65" y="129.2" font-size="12" fill="#3a3d45" textLength="41" lengthAdjust="spacingAndGlyphs">143.511</text>
<text x="776.3" y="309.7" font-size="12" fill="#2f3239" textLength="42.2" lengthAdjust="spacingAndGlyphs">139.887</text>
<!-- indicator pills -->
<rect x="52" y="127.2" width="154" height="33.6" rx="16.8" fill="#dfe0e4" fill-opacity="0.72"/>
<text x="65.5" y="148.4" font-size="15" font-weight="bold" fill="#38393e" textLength="25" lengthAdjust="spacingAndGlyphs">MA</text>
<text x="93.8" y="148" font-size="11.5" fill="#4a4b50" textLength="45.5" lengthAdjust="spacingAndGlyphs">(5,10,30)</text>
<polyline points="188,139 192,143.1 188,147.2" fill="none" stroke="#22345a" stroke-width="1.6" stroke-linecap="round" stroke-linejoin="round"/>
<rect x="51.8" y="326.2" width="154.5" height="33.2" rx="16.6" fill="#dfe0e4" fill-opacity="0.72"/>
<text x="65.5" y="347.2" font-size="15" font-weight="bold" fill="#38393e" textLength="25" lengthAdjust="spacingAndGlyphs">RSI</text>
<text x="94" y="346.8" font-size="11.5" fill="#4a4b50" textLength="18.5" lengthAdjust="spacingAndGlyphs">(14)</text>
<polyline points="187.5,337.7 191.5,341.9 187.5,346.1" fill="none" stroke="#22345a" stroke-width="1.6" stroke-linecap="round" stroke-linejoin="round"/>
<text x="889.5" y="155.3" class="ax">143.000</text>
<text x="889.5" y="205.20000000000002" class="ax">142.000</text>
<text x="889.5" y="255.0" class="ax">141.000</text>
<text x="889.5" y="284.8" class="ax">140.400</text>
<text x="889.5" y="315.3" class="ax">139.800</text>
<text x="889.5" y="327.6" class="ax">60.00</text>
<text x="889.5" y="362.3" class="ax">40.00</text>
<text x="889.5" y="397.8" class="ax">20.00</text>
<text x="131.5" y="439.3" class="dt" text-anchor="middle">16/04</text>
<text x="274.8" y="439.3" class="dt" text-anchor="middle">17/04</text>
<text x="418.3" y="439.3" class="dt" text-anchor="middle">18/04</text>
<text x="561.9" y="439.3" class="dt" text-anchor="middle">21/04</text>
<text x="704.9" y="439.3" class="dt" text-anchor="middle">22/04</text>
<text x="848.6" y="439.3" class="dt" text-anchor="middle">23/04</text>
</svg>
</body></html>
